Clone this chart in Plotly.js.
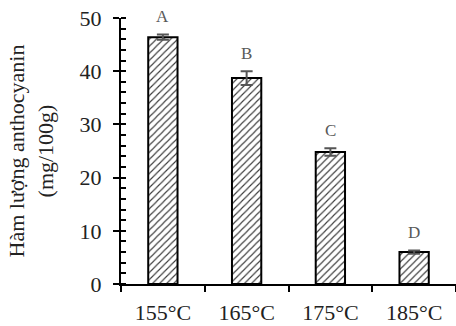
<!DOCTYPE html>
<html><head><meta charset="utf-8">
<script src="https://cdn.plot.ly/plotly-3.0.1.min.js"></script>
<style>html,body{margin:0;padding:0;background:#fff;}</style>
</head><body>
<div id="chart" style="width:456px;height:326px;"></div>
<script>
const categories = ["155°C", "165°C", "175°C", "185°C"];
const values = [46.4, 38.7, 24.8, 6.0];
const errors = [0.5, 1.3, 0.7, 0.3];
const letters = ["A", "B", "C", "D"];

const FONT = "Liberation Serif, Times New Roman, serif";

const trace = {
  type: "bar",
  x: categories,
  y: values,
  width: 0.35,
  marker: {
    color: "#ffffff",
    line: {color: "#000000", width: 2},
    pattern: {shape: "/", fgcolor: "#3a3a3a", bgcolor: "#ffffff", size: 5, solidity: 0.22}
  },
  error_y: {type: "data", array: errors, visible: true, color: "#555555", thickness: 2, width: 6},
  hoverinfo: "none"
};

const annotations = categories.map((c, i) => ({
  x: c, y: values[i] + errors[i], xref: "x", yref: "y",
  text: letters[i], showarrow: false, yanchor: "bottom", yshift: 6,
  font: {family: FONT, size: 17, color: "#595959"}
}));

const layout = {
  width: 456, height: 326,
  margin: {l: 121, r: 0, t: 18, b: 42},
  paper_bgcolor: "#ffffff", plot_bgcolor: "#ffffff",
  showlegend: false,
  font: {family: FONT, color: "#222222"},
  xaxis: {
    type: "category", range: [-0.5, 3.5],
    showline: true, linecolor: "#000", linewidth: 2,
    ticks: "outside", tickson: "boundaries", ticklen: 6, tickwidth: 2, tickcolor: "#000",
    ticklabelstandoff: 8,
    tickfont: {family: FONT, size: 22, color: "#222"},
    showgrid: false, zeroline: false, fixedrange: true
  },
  yaxis: {
    range: [0, 50], dtick: 10,
    showline: true, linecolor: "#000", linewidth: 2,
    ticks: "outside", ticklen: 6, tickwidth: 2, tickcolor: "#000",
    ticklabelstandoff: 7,
    minor: {dtick: 2, ticks: "inside", ticklen: 5, tickwidth: 2, tickcolor: "#000", showgrid: false},
    tickfont: {family: FONT, size: 22, color: "#222"},
    showgrid: false, zeroline: false,
    title: {text: "Hàm lượng anthocyanin<br>(mg/100g)", font: {family: FONT, size: 22, color: "#222"}, standoff: 20}
  },
  yaxis2: {
    overlaying: "y", range: [0, 50], dtick: 10,
    ticks: "inside", ticklen: 5, tickwidth: 2, tickcolor: "#000",
    showticklabels: false, showgrid: false, zeroline: false, showline: false
  },
  annotations: annotations
};

const dummy = {type: "scatter", x: categories, y: values, yaxis: "y2", mode: "none", hoverinfo: "none", showlegend: false};

Plotly.newPlot("chart", [trace, dummy], layout, {displayModeBar: false, staticPlot: true});
</script>
</body></html>
